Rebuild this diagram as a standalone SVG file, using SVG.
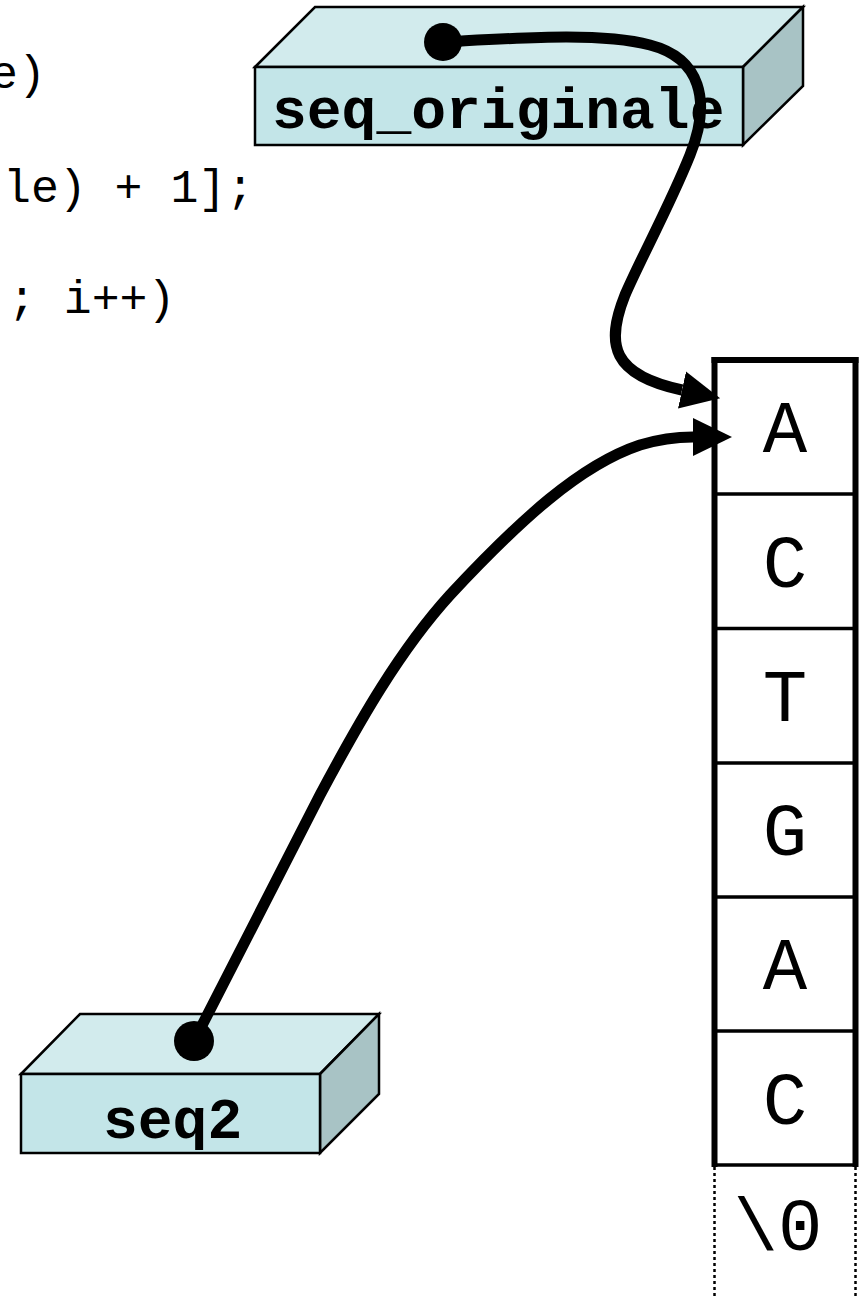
<svg xmlns="http://www.w3.org/2000/svg" width="865" height="1299" viewBox="0 0 865 1299">
  <style>
    .code { font-family: "Liberation Mono", "DejaVu Sans Mono", monospace; font-size: 46.5px; fill: #000; }
    .lbl { font-family: "Liberation Mono", "DejaVu Sans Mono", monospace; font-size: 58px; font-weight: bold; fill: #000; }
    .cell { font-family: "Liberation Mono", "DejaVu Sans Mono", monospace; font-size: 74px; fill: #000; text-anchor: middle; }
    .front { fill: #C3E5E8; stroke: #000; stroke-width: 2.5; stroke-linejoin: miter; }
    .top { fill: #D2EBED; stroke: #000; stroke-width: 2.5; }
    .side { fill: #A8C3C5; stroke: #000; stroke-width: 2.5; }
    .wire { fill: none; stroke: #000; stroke-width: 11; stroke-linecap: butt; }
    .thick { stroke: #000; stroke-width: 6; }
    .thin { stroke: #000; stroke-width: 3.5; }
    .dot { stroke: #000; stroke-width: 2.5; stroke-dasharray: 3 3; }
  </style>
  <defs>
    <marker id="arrow" markerUnits="userSpaceOnUse" markerWidth="40" markerHeight="40" viewBox="0 0 40 40" refX="0" refY="20" orient="auto">
      <path d="M0,1 L39,20 L0,39 Z" fill="#000"/>
    </marker>
  </defs>

  <g id="code">
    <text class="code" x="-10" y="88">e)</text>
    <text class="code" x="3" y="202">le) + 1];</text>
    <text class="code" x="8" y="313">; i++)</text>
  </g>

  <g id="seq_originale">
    <polygon class="top" points="255,67 315,7 803,7 743,67"/>
    <polygon class="side" points="743,67 803,7 803,86 743,145"/>
    <rect class="front" x="255" y="67" width="488" height="78"/>
    <text class="lbl" x="272" y="128">seq_originale</text>
  </g>

  <g id="seq2">
    <polygon class="top" points="21,1074 80,1014 379,1014 320,1074"/>
    <polygon class="side" points="320,1074 379,1014 379,1094 320,1153"/>
    <rect class="front" x="21" y="1074" width="299" height="79"/>
    <text class="lbl" x="103" y="1138">seq2</text>
  </g>

  <g id="array">
    <line class="thin" x1="714.5" y1="494" x2="855.5" y2="494"/>
    <line class="thin" x1="714.5" y1="628.5" x2="855.5" y2="628.5"/>
    <line class="thin" x1="714.5" y1="763" x2="855.5" y2="763"/>
    <line class="thin" x1="714.5" y1="897" x2="855.5" y2="897"/>
    <line class="thin" x1="714.5" y1="1031" x2="855.5" y2="1031"/>
    <line class="thin" x1="714.5" y1="1165" x2="855.5" y2="1165"/>
    <line class="thick" x1="711.5" y1="360" x2="858.5" y2="360"/>
    <line class="thick" x1="714.5" y1="357" x2="714.5" y2="1167"/>
    <line class="thick" x1="855.5" y1="357" x2="855.5" y2="1167"/>
    <line class="dot" x1="714.5" y1="1167" x2="714.5" y2="1299"/>
    <line class="dot" x1="855.5" y1="1167" x2="855.5" y2="1299"/>
    <text class="cell" x="785" y="452">A</text>
    <text class="cell" x="785" y="587">C</text>
    <text class="cell" x="785" y="721">T</text>
    <text class="cell" x="785" y="855">G</text>
    <text class="cell" x="785" y="989">A</text>
    <text class="cell" x="785" y="1124">C</text>
    <text class="cell" x="778" y="1250">\0</text>
  </g>

  <g id="connectors">
    <path class="wire" marker-end="url(#arrow)" d="M443,42 C520,38 600,32 650,45 C700,58 712,100 690,155 C670,205 640,260 625,295 C605,345 612,375 682,390"/>
    <circle cx="443" cy="42" r="19" fill="#000"/>
    <path class="wire" marker-end="url(#arrow)" d="M194,1041 L320,795 C360,720 400,650 450,595 C520,520 580,465 640,445 C660,439 675,437 693,437"/>
    <circle cx="194" cy="1041" r="20" fill="#000"/>
  </g>
</svg>
